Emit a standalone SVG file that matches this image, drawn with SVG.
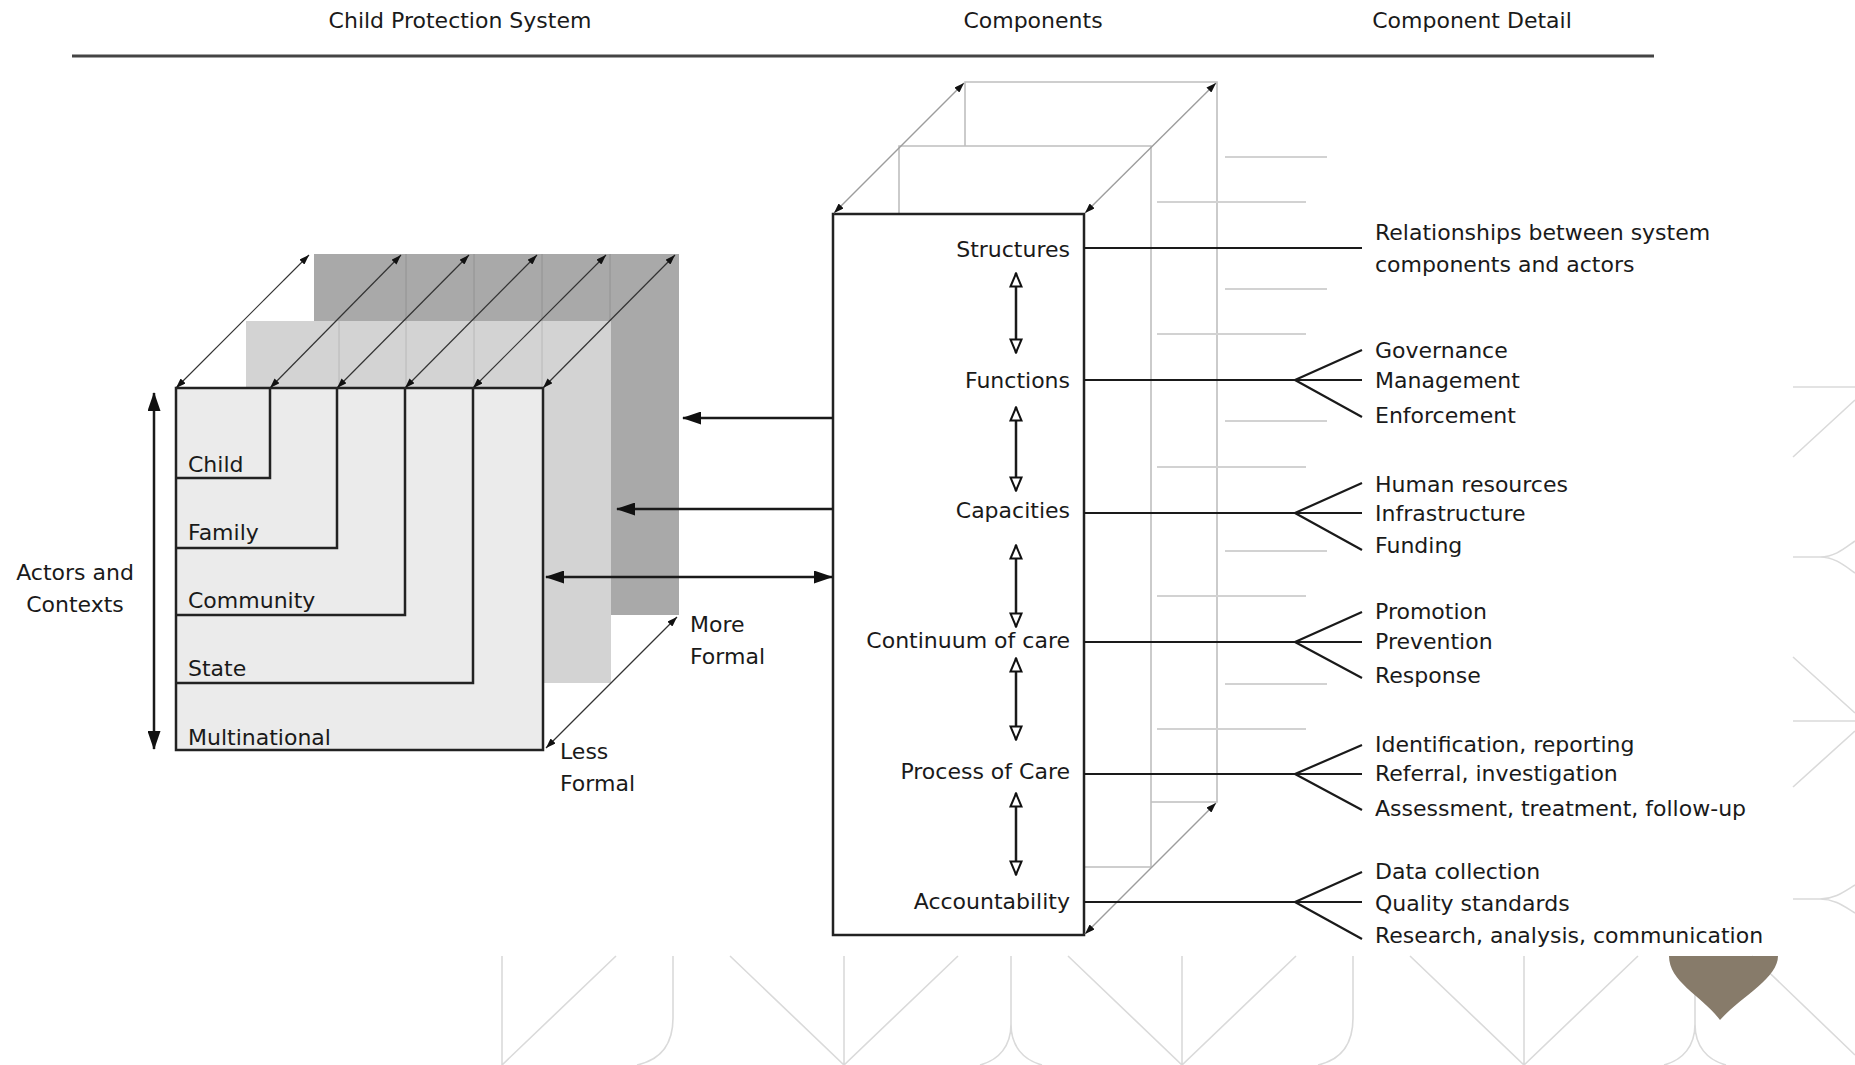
<svg xmlns="http://www.w3.org/2000/svg" width="1855" height="1065" viewBox="0 0 1855 1065">
<style>
text{font-family:"DejaVu Sans","Liberation Sans",sans-serif;font-size:22px;fill:#1a1a1a}
.m{text-anchor:middle}
.e{text-anchor:end}
.ln{stroke:#222;stroke-width:2.5;fill:none}
.box{stroke:#222;stroke-width:2.5}
.ar{stroke:#1a1a1a;stroke-width:2.5;fill:none}
.thin{stroke:#333;stroke-width:1.2;fill:none}
.wire{stroke:#bfbfbf;stroke-width:1.6;fill:none}
.wd{stroke:#9d9d9d;stroke-width:1.4;fill:none}
.ghost{stroke:#d2d2d2;stroke-width:2;fill:none}
.pat{stroke:#dadada;stroke-width:1.6;fill:none}
.con{stroke:#1a1a1a;stroke-width:2.2;fill:none}
</style>
<defs>
<marker id="big" viewBox="0 0 19 13" refX="18" refY="6.5" markerWidth="19" markerHeight="13" markerUnits="userSpaceOnUse" orient="auto-start-reverse"><path d="M0,0 L19,6.5 L0,13 Z" fill="#111"/></marker>
<marker id="sm" viewBox="0 0 10 7" refX="10" refY="3.5" markerWidth="10" markerHeight="7" markerUnits="userSpaceOnUse" orient="auto-start-reverse"><path d="M0,0 L10,3.5 L0,7 Z" fill="#111"/></marker>
<marker id="hol" viewBox="0 0 16 14" refX="15" refY="7" markerWidth="16" markerHeight="14" markerUnits="userSpaceOnUse" orient="auto-start-reverse"><path d="M1.5,1.5 L14.5,7 L1.5,12.5 Z" fill="#fff" stroke="#111" stroke-width="2"/></marker>
</defs>
<rect width="1855" height="1065" fill="#fff"/>

<g id="background-pattern">
<path class="pat" d="M502,956V1065 M502,1065L616,956 M673,956V1018C673,1045 660,1060 637,1065 M730,956L844,1065 M844,956V1065 M844,1065L958,956 M1011,956V1024C1011,1046 999,1060 980,1065 M1011,1024C1011,1046 1023,1060 1042,1065 M1068,956L1182,1065 M1182,956V1065 M1182,1065L1296,956 M1353,956V1018C1353,1045 1340,1060 1318,1065 M1410,956L1524,1065 M1524,956V1065 M1524,1065L1638,956 M1695,956V1024C1695,1046 1683,1060 1664,1065 M1695,1024C1695,1046 1707,1060 1726,1065 M1752,956L1855,1055"/>
<path class="pat" d="M1793,387H1855 M1793,457L1855,400 M1793,557H1820C1835,557 1845,548 1855,541 M1820,557C1835,557 1845,566 1855,573 M1793,657L1855,713 M1793,721H1855 M1793,787L1855,731 M1793,899H1820C1835,899 1845,891 1855,885 M1820,899C1835,899 1845,907 1855,913"/>
<path d="M1669,956H1778C1778,978 1742,996 1720,1020C1702,996 1669,982 1669,956Z" fill="#877b6a"/>
</g>

<g id="header">
<text x="460" y="28" class="m">Child Protection System</text>
<text x="1033" y="28" class="m">Components</text>
<text x="1472" y="28" class="m">Component Detail</text>
<line x1="72" y1="56" x2="1654" y2="56" stroke="#444" stroke-width="3"/>
</g>

<g id="cube-back-panel">
<rect x="314" y="254" width="365" height="361" fill="#a9a9a9"/>
<path d="M406,254V321 M474,254V321 M542,254V321 M610,254V321" stroke="#979797" stroke-width="1.2"/>
</g>
<g id="cube-middle-panel">
<rect x="246" y="321" width="365" height="362" fill="#d3d3d3"/>
<path d="M339,321V388 M406,321V388 M474,321V388 M542,321V388" stroke="#bdbdbd" stroke-width="1.2"/>
</g>
<g id="cube-front">
<rect x="176" y="388" width="367" height="362" fill="#ebebeb" class="box"/>
</g>
<g id="node-child"><path class="ln" d="M270,388V478H176"/><text x="188" y="472">Child</text></g>
<g id="node-family"><path class="ln" d="M337,388V548H176"/><text x="188" y="540">Family</text></g>
<g id="node-community"><path class="ln" d="M405,388V615H176"/><text x="188" y="608">Community</text></g>
<g id="node-state"><path class="ln" d="M473,388V683H176"/><text x="188" y="676">State</text></g>
<g id="node-multinational"><text x="188" y="745">Multinational</text></g>

<g id="labels-left">
<text x="75" y="580" class="m">Actors and</text>
<text x="75" y="612" class="m">Contexts</text>
<text x="560" y="759">Less</text>
<text x="560" y="791">Formal</text>
<text x="690" y="632">More</text>
<text x="690" y="664">Formal</text>
</g>

<g id="components-frame">
<path class="wire" d="M899,214V146H1151V867H1084 M965,146V82H1217V802H1151"/>
<path class="ghost" d="M1225,157H1327 M1157,202H1306 M1225,289H1327 M1157,334H1306 M1225,421H1327 M1157,467H1306 M1225,551H1327 M1157,596H1306 M1225,684H1327 M1157,729H1306"/>
</g>

<g id="node-components">
<rect x="833" y="214" width="251" height="721" fill="#fff" class="box"/>
<text x="1070" y="257" class="e">Structures</text>
<text x="1070" y="388" class="e">Functions</text>
<text x="1070" y="518" class="e">Capacities</text>
<text x="1070" y="648" class="e">Continuum of care</text>
<text x="1070" y="779" class="e">Process of Care</text>
<text x="1070" y="909" class="e">Accountability</text>
</g>

<g id="node-details">
<text x="1375" y="240">Relationships between system</text>
<text x="1375" y="272">components and actors</text>
<text x="1375" y="358">Governance</text>
<text x="1375" y="388">Management</text>
<text x="1375" y="423">Enforcement</text>
<text x="1375" y="492">Human resources</text>
<text x="1375" y="521">Infrastructure</text>
<text x="1375" y="553">Funding</text>
<text x="1375" y="619">Promotion</text>
<text x="1375" y="649">Prevention</text>
<text x="1375" y="683">Response</text>
<text x="1375" y="752">Identification, reporting</text>
<text x="1375" y="781">Referral, investigation</text>
<text x="1375" y="816">Assessment, treatment, follow-up</text>
<text x="1375" y="879">Data collection</text>
<text x="1375" y="911">Quality standards</text>
<text x="1375" y="943">Research, analysis, communication</text>
</g>

<g id="connectors">
<g marker-start="url(#sm)" marker-end="url(#sm)">
<line class="thin" x1="176" y1="388" x2="309" y2="255"/>
<line class="thin" x1="270" y1="388" x2="401" y2="255"/>
<line class="thin" x1="337" y1="388" x2="469" y2="255"/>
<line class="thin" x1="405" y1="388" x2="537" y2="255"/>
<line class="thin" x1="473" y1="388" x2="606" y2="255"/>
<line class="thin" x1="543" y1="388" x2="675" y2="255"/>
<line class="thin" x1="546" y1="748" x2="677" y2="617"/>
<line class="wd" x1="834" y1="213" x2="964" y2="83"/>
<line class="wd" x1="1085" y1="213" x2="1216" y2="83"/>
<line class="wd" x1="1085" y1="934" x2="1216" y2="803"/>
</g>
<line class="ar" x1="154" y1="393" x2="154" y2="749" marker-start="url(#big)" marker-end="url(#big)"/>
<line class="ar" x1="833" y1="418" x2="683" y2="418" marker-end="url(#big)"/>
<line class="ar" x1="833" y1="509" x2="617" y2="509" marker-end="url(#big)"/>
<line class="ar" x1="546" y1="577" x2="832" y2="577" marker-start="url(#big)" marker-end="url(#big)"/>
<g marker-start="url(#hol)" marker-end="url(#hol)">
<line class="ar" stroke-width="2" x1="1016" y1="273" x2="1016" y2="353"/>
<line class="ar" stroke-width="2" x1="1016" y1="407" x2="1016" y2="491"/>
<line class="ar" stroke-width="2" x1="1016" y1="545" x2="1016" y2="627"/>
<line class="ar" stroke-width="2" x1="1016" y1="658" x2="1016" y2="740"/>
<line class="ar" stroke-width="2" x1="1016" y1="793" x2="1016" y2="875"/>
</g>
<path class="con" d="M1084,248H1362"/>
<path class="con" d="M1084,380H1362 M1295,380L1362,350 M1295,380L1362,417"/>
<path class="con" d="M1084,513H1362 M1295,513L1362,483 M1295,513L1362,550"/>
<path class="con" d="M1084,642H1362 M1295,642L1362,612 M1295,642L1362,678"/>
<path class="con" d="M1084,774H1362 M1295,774L1362,745 M1295,774L1362,810"/>
<path class="con" d="M1084,902H1362 M1295,902L1362,872 M1295,902L1362,939"/>
</g>
</svg>
